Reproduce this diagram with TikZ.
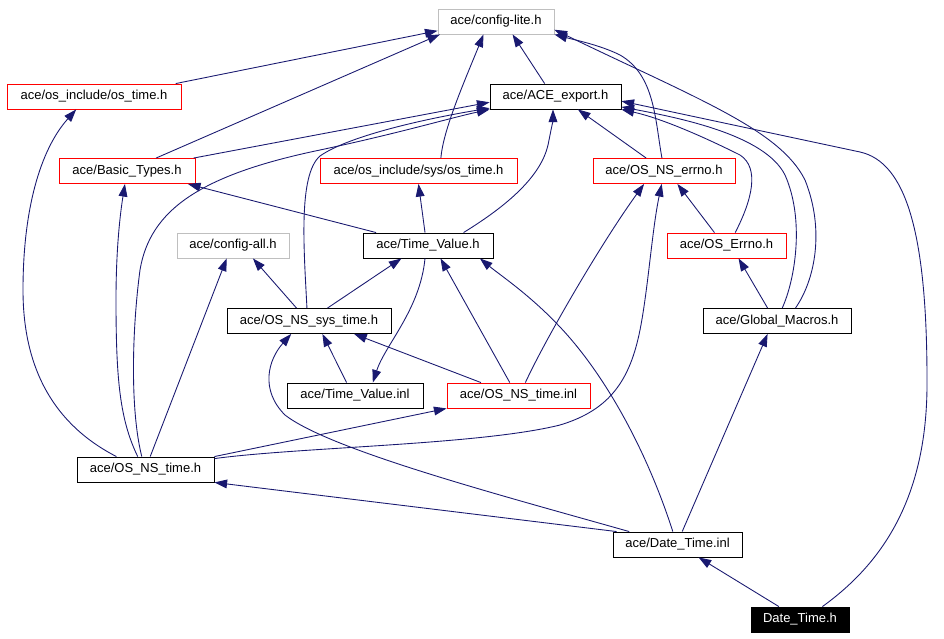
\documentclass[tikz,border=0pt]{standalone}
\usepackage{fontspec}
\setmainfont{Liberation Sans}
\usetikzlibrary{arrows.meta}

\definecolor{edgeblue}{HTML}{191970}
\definecolor{boxred}{HTML}{FF0000}
\definecolor{boxgray}{HTML}{BFBFBF}

\tikzset{
  hdr/.style = {draw , minimum height=0.5cm , inner sep=1pt , line width=0.5pt , font=\fontsize{7.4}{9}\selectfont},
  hdrred/.style = {hdr , draw = boxred},
  hdrgray/.style = {hdr , draw = boxgray},
  hdrmain/.style = {hdr , fill = black , text = white},
  dep/.style = {draw = edgeblue , line width=0.5pt , -{Triangle[length=7.2pt , width=5pt]}},
}

\begin{document}
\begin{tikzpicture}[x=0.02cm , y=-0.02cm]
\useasboundingbox (0,0) rectangle (944,639);

\node[hdrgray , minimum width=2.32cm] (cfglite) at (496,21.5) {ace/config-lite.h} ;
\node[hdrred , minimum width=3.48cm] (ostime) at (94,96.5) {ace/os\_include/os\_time.h} ;
\node[hdr , minimum width=2.62cm] (export) at (555.5,96.5) {ace/ACE\_export.h} ;
\node[hdrred , minimum width=2.72cm] (basic) at (127,171) {ace/Basic\_Types.h} ;
\node[hdrred , minimum width=3.94cm] (sysostime) at (418.5,171) {ace/os\_include/sys/os\_time.h} ;
\node[hdrred , minimum width=2.84cm] (nserrno) at (664,171) {ace/OS\_NS\_errno.h} ;
\node[hdrgray , minimum width=2.24cm] (cfgall) at (233,245.5) {ace/config-all.h} ;
\node[hdr , minimum width=2.60cm] (timevalue) at (428,245.5) {ace/Time\_Value.h} ;
\node[hdrred , minimum width=2.38cm] (oserrno) at (726.5,245.5) {ace/OS\_Errno.h} ;
\node[hdr , minimum width=3.28cm] (systime) at (309,321) {ace/OS\_NS\_sys\_time.h} ;
\node[hdr , minimum width=2.96cm] (globalmacros) at (777,321) {ace/Global\_Macros.h} ;
\node[hdr , minimum width=2.72cm] (tvinl) at (355,395.5) {ace/Time\_Value.inl} ;
\node[hdrred , minimum width=2.86cm] (nstimeinl) at (518.5,395.5) {ace/OS\_NS\_time.inl} ;
\node[hdr , minimum width=2.74cm] (nstime) at (145.5,469.5) {ace/OS\_NS\_time.h} ;
\node[hdr , minimum width=2.58cm] (dtinl) at (677.5,544.5) {ace/Date\_Time.inl} ;
\node[hdrmain , minimum width=1.96cm] (dateh) at (800,619.5) {Date\_Time.h} ;

% Date_Time.h
\draw[dep] (dateh) -- (dtinl) ;
\draw[dep] (dateh.30) .. controls (880,565) and (928,500) .. (927,380) .. controls (927,230) and (905,162) .. (860,152) -- (export.-4) ;

% ace/Date_Time.inl
\draw[dep] (dtinl.168) -- (nstime.south east) ;
\draw[dep] (dtinl.165) .. controls (500,495) and (330,450) .. (285,415) .. controls (260,390) and (268,360) .. (systime.-144) ;
\draw[dep] (dtinl.110) .. controls (650,460) and (610,380) .. (560,327) .. controls (530,295) and (500,275) .. (timevalue.-14) ;
\draw[dep] (dtinl.70) -- (globalmacros.-126) ;

% ace/OS_NS_time.h
\draw[dep] (nstime.north east) -- (nstimeinl.south west) ;
\draw[dep] (nstime.9) .. controls (300,447) and (480,445) .. (560,425) .. controls (610,410) and (630,380) .. (640,330) .. controls (648,290) and (652,230) .. (nserrno.-100) ;
\draw[dep] (nstime.156) .. controls (55,425) and (23,370) .. (23,290) .. controls (23,210) and (40,150) .. (ostime.-144) ;
\draw[dep] (nstime.121) .. controls (120,420) and (116,380) .. (116,300) .. controls (116,250) and (120,215) .. (basic.-99) ;
\draw[dep] (nstime.106) .. controls (130,410) and (132,330) .. (140,270) .. controls (150,210) and (200,175) .. (320,150) .. controls (400,133) and (450,118) .. (export.south west) ;
\draw[dep] (nstime.70) -- (cfgall.-116) ;

% ace/OS_NS_time.inl
\draw[dep] (nstimeinl.161) -- (systime.-16) ;
\draw[dep] (nstimeinl.124) -- (timevalue.-46) ;
\draw[dep] (nstimeinl.62) .. controls (545,340) and (600,245) .. (nserrno.-147) ;

% ace/Time_Value.inl
\draw[dep] (tvinl.123) -- (systime.-44) ;

% ace/OS_NS_sys_time.h
\draw[dep] (systime.35) -- (timevalue.-154) ;
\draw[dep] (systime.134) -- (cfgall.-33) ;
\draw[dep] (systime.99) .. controls (304,250) and (298,175) .. (320,156) .. controls (350,135) and (430,118) .. (export.-170) ;

% ace/Global_Macros.h
\draw[dep] (globalmacros.126) -- (oserrno.-47) ;
\draw[dep] (globalmacros.68) .. controls (795,280) and (805,220) .. (785,175) .. controls (765,135) and (680,118) .. (export.-9) ;
\draw[dep] (globalmacros.35) .. controls (815,280) and (825,230) .. (805,180) .. controls (780,130) and (700,100) .. (cfglite.-8) ;

% ace/Time_Value.h
\draw[dep] (timevalue.103) -- (sysostime.south) ;
\draw[dep] (timevalue.166) -- (basic.-12) ;
\draw[dep] (timevalue.20) .. controls (500,210) and (540,180) .. (548,145) .. controls (551,130) and (553,120) .. (export.-101) ;
\draw[dep] (timevalue.-103) .. controls (420,310) and (385,345) .. (tvinl.36) ;

% ace/OS_Errno.h
\draw[dep] (oserrno.133) -- (nserrno.-44) ;
\draw[dep] (oserrno.56) .. controls (752,200) and (760,168) .. (740,155) .. controls (700,135) and (660,118) .. (export.south east) ;

% ace/OS_NS_errno.h
\draw[dep] (nserrno.144) -- (export.-30) ;
\draw[dep] (nserrno.99) .. controls (655,120) and (655,75) .. (620,55) .. controls (600,45) and (575,40) .. (cfglite.south east) ;

% upper headers
\draw[dep] (basic.24) -- (cfglite.-167) ;
\draw[dep] (basic.11) -- (export.-175) ;
\draw[dep] (ostime.9) -- (cfglite.-171) ;
\draw[dep] (sysostime.30) .. controls (443,130) and (465,80) .. (cfglite.-134) ;
\draw[dep] (export.130) -- (cfglite.-38) ;

\end{tikzpicture}
\end{document}
